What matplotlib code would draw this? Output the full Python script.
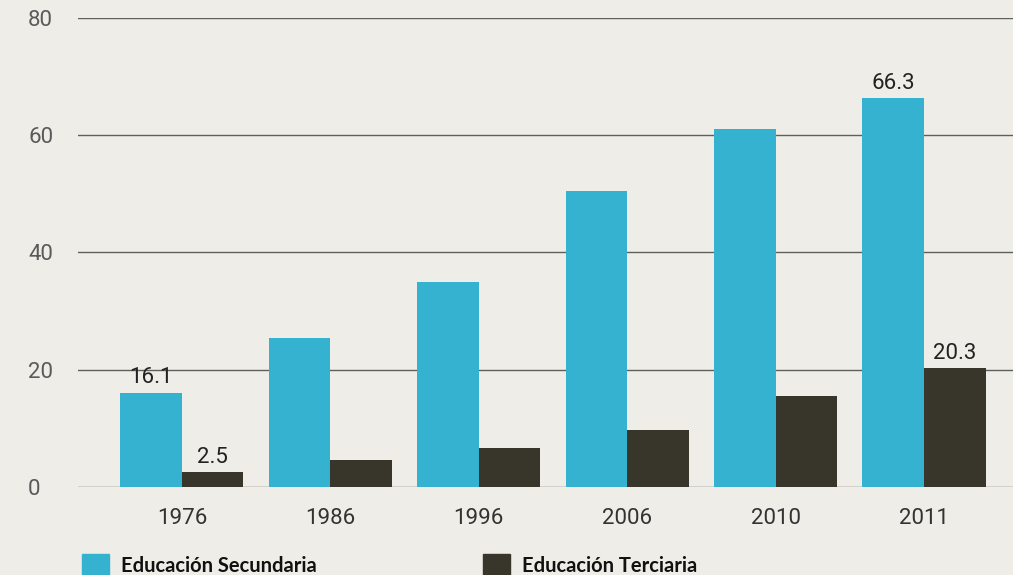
import matplotlib
matplotlib.use("Agg")
import matplotlib.pyplot as plt
from matplotlib.patches import Patch
import numpy as np

years = ["1976", "1986", "1996", "2006", "2010", "2011"]
secundaria = [16.1, 25.5, 35.0, 50.5, 61.0, 66.3]
terciaria = [2.5, 4.6, 6.6, 9.8, 15.5, 20.3]
labels_sec = {0: "16.1", 5: "66.3"}
labels_ter = {0: "2.5", 5: "20.3"}
yticks = [0, 20, 40, 60, 80]
series_names = ["Educación Secundaria", "Educación Terciaria"]

bg = "#efede7"
c_sec = "#35b2d0"
c_ter = "#38352a"

fig = plt.figure(figsize=(10.13, 5.75), dpi=100, facecolor=bg)
ax = fig.add_axes([78 / 1013, (575 - 487) / 575, 1 - 78 / 1013, (487 - 18) / 575])
ax.set_facecolor(bg)

x = np.arange(len(years))
w = 0.415
b1 = ax.bar(x - w / 2, secundaria, w, color=c_sec, zorder=3)
b2 = ax.bar(x + w / 2, terciaria, w, color=c_ter, zorder=3)

ax.set_xlim(-0.7, 5.6)
ax.set_ylim(0, 80)
ax.set_yticks(yticks)
ax.yaxis.grid(True, color="#5f5f5b", linewidth=1.0, zorder=1)
ax.set_axisbelow(True)
for s in ax.spines.values():
    s.set_visible(False)
ax.tick_params(axis="both", length=0)
ax.set_xticks(x)
ax.set_xticklabels(years, fontfamily="Roboto", fontsize=16, color="#333333")
ax.tick_params(axis="x", pad=15)
for t in ax.get_yticklabels():
    t.set_fontfamily("Roboto")
    t.set_fontsize(16)
    t.set_color("#5a5a5a")
    t.set_horizontalalignment("left")
ax.tick_params(axis="y", pad=36)

for i, txt in labels_sec.items():
    ax.annotate(txt, (x[i] - w / 2, secundaria[i]), xytext=(0, 3), textcoords="offset points",
                ha="center", va="bottom", fontfamily="Roboto", fontsize=16, color="#222222")
for i, txt in labels_ter.items():
    ax.annotate(txt, (x[i] + w / 2, terciaria[i]), xytext=(0, 3), textcoords="offset points",
                ha="center", va="bottom", fontfamily="Roboto", fontsize=16, color="#222222")

leg_kw = dict(frameon=False, handlelength=1.35, handleheight=1.35, handletextpad=0.6,
              prop={"family": "Lato", "weight": "bold", "size": 14.5}, borderpad=0,
              borderaxespad=0, labelcolor="#111111")
l1 = fig.legend([Patch(color=c_sec)], [series_names[0]], loc="center left",
                bbox_to_anchor=(82 / 1013, 1 - 565 / 575), **leg_kw)
l2 = fig.legend([Patch(color=c_ter)], [series_names[1]], loc="center left",
                bbox_to_anchor=(483 / 1013, 1 - 565 / 575), **leg_kw)

fig.savefig("out.png", dpi=100, facecolor=bg)
